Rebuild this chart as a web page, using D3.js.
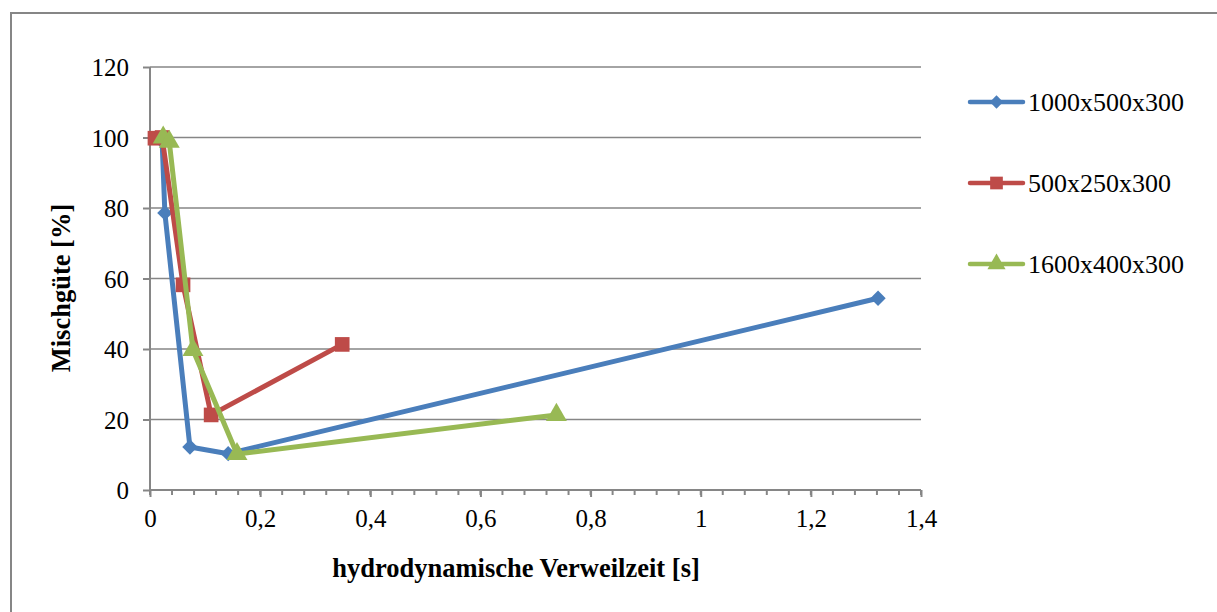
<!DOCTYPE html>
<html>
<head>
<meta charset="utf-8">
<script src="https://cdn.jsdelivr.net/npm/d3@7"></script>
<style>
  body { margin: 0; background: #fff; }
</style>
</head>
<body>
<div class="canvas"></div>
<script>
// Data

const seriesNames = ["1000x500x300", "500x250x300", "1600x400x300"];

const blueX = [0.022, 0.027, 0.0725, 0.142, 1.322];
const blueY = [99, 78.6, 12.2, 10.3, 54.4];

const redX = [0.009, 0.022, 0.06, 0.111, 0.349];
const redY = [99.8, 100, 58.2, 21.3, 41.3];

const greenX = [0.024, 0.035, 0.078, 0.158, 0.738];
const greenY = [100, 98.8, 39.7, 10.2, 21.3];

const xTicks = [0, 0.2, 0.4, 0.6, 0.8, 1, 1.2, 1.4];
const yTicks = [0, 20, 40, 60, 80, 100, 120];

const colors = ["#4A7EBB", "#BE4B48", "#98B954"];
const symbols = [d3.symbolDiamond2, d3.symbolSquare, d3.symbolTriangle];

const serif = "'Liberation Serif', 'Times New Roman', 'DejaVu Serif', serif";

// Set dimensions & margins

const W = 1217, H = 612;
const margin = { top: 67, left: 150, right: W - 921, bottom: H - 490 };
const width = W - margin.left - margin.right;
const height = H - margin.top - margin.bottom;

const x = d3.scaleLinear().domain([0, 1.4]).range([0, width]);
const y = d3.scaleLinear().domain([0, 120]).range([height, 0]);

const svg = d3.select(".canvas")
  .append("svg")
    .attr("width", W)
    .attr("height", H);

// outer chart border (cut at right and bottom)
svg.append("path")
  .attr("d", `M11,${H + 5} V13 H${W + 5}`)
  .attr("fill", "none")
  .attr("stroke", "#868686")
  .attr("stroke-width", 2);

const g = svg.append("g")
  .attr("transform", `translate(${margin.left}, ${margin.top})`);

// horizontal gridlines
g.selectAll(".yGrid")
  .data(yTicks.slice(1))
  .join("line")
  .attr("x1", 0)
  .attr("x2", width)
  .attr("y1", d => y(d))
  .attr("y2", d => y(d))
  .attr("stroke", "#868686")
  .attr("stroke-width", 1.5);

// y-axis
g.append("g")
  .call(d3.axisLeft(y)
    .tickValues(yTicks)
    .tickSize(7)
    .tickPadding(14)
    .tickFormat(d => d))
  .call(a => a.select(".domain").attr("stroke", "#868686").attr("stroke-width", 2).attr("d", `M0,${height}V0`))
  .call(a => a.selectAll(".tick line").attr("stroke", "#868686").attr("stroke-width", 2))
  .selectAll(".tick text")
  .style("font-family", serif)
  .style("font-size", "25px")
  .attr("fill", "#000")
  .attr("dy", "0.35em");

// x-axis minor ticks
const minor = d3.range(0, 1.4001, 0.04);
g.selectAll(".xMinor")
  .data(minor)
  .join("line")
  .attr("x1", d => x(d))
  .attr("x2", d => x(d))
  .attr("y1", height)
  .attr("y2", height + 5)
  .attr("stroke", "#868686")
  .attr("stroke-width", 2);

// x-axis
g.append("g")
  .attr("transform", `translate(0, ${height})`)
  .call(d3.axisBottom(x)
    .tickValues(xTicks)
    .tickSize(7)
    .tickPadding(12)
    .tickFormat(d => String(d).replace(".", ",")))
  .call(a => a.select(".domain").attr("stroke", "#868686").attr("stroke-width", 2).attr("d", `M0,0H${width}`))
  .call(a => a.selectAll(".tick line").attr("stroke", "#868686").attr("stroke-width", 2))
  .selectAll(".tick text")
  .style("font-family", serif)
  .style("font-size", "25px")
  .attr("fill", "#000")
  .attr("dy", "0.71em");

// series lines and markers
const series = [
  { name: seriesNames[0], xs: blueX, ys: blueY },
  { name: seriesNames[1], xs: redX, ys: redY },
  { name: seriesNames[2], xs: greenX, ys: greenY }
];
const markerSize = [150, 215, 190];

const line = d3.line()
  .x(d => x(d[0]))
  .y(d => y(d[1]));

series.forEach((s, i) => {
  const pts = s.xs.map((v, j) => [v, s.ys[j]]);
  g.append("path")
    .datum(pts)
    .attr("fill", "none")
    .attr("stroke", colors[i])
    .attr("stroke-width", 5)
    .attr("stroke-linejoin", "round")
    .attr("d", line);
  g.selectAll(null)
    .data(pts)
    .join("path")
    .attr("transform", d => `translate(${x(d[0])}, ${y(d[1])})`)
    .attr("d", d3.symbol(symbols[i], markerSize[i]))
    .attr("fill", colors[i]);
});

// legend
const legend = svg.append("g")
  .attr("transform", "translate(970, 102)");

series.forEach((s, i) => {
  const row = legend.append("g").attr("transform", `translate(0, ${i * 81})`);
  row.append("line")
    .attr("x1", 0).attr("x2", 53)
    .attr("stroke", colors[i])
    .attr("stroke-width", 4.5)
    .attr("stroke-linecap", "round");
  row.append("path")
    .attr("transform", "translate(26.5, 0)")
    .attr("d", d3.symbol(symbols[i], markerSize[i] * 0.75))
    .attr("fill", colors[i]);
  row.append("text")
    .attr("x", 58)
    .attr("dy", "0.35em")
    .style("font-family", serif)
    .style("font-size", "26px")
    .text(s.name);
});

// axis titles
svg.append("text")
  .attr("transform", "rotate(-90)")
  .attr("x", -288)
  .attr("y", 70)
  .style("text-anchor", "middle")
  .style("font-family", serif)
  .style("font-size", "26.5px")
  .style("font-weight", "bold")
  .text("Mischgüte [%]");

svg.append("text")
  .attr("x", 516)
  .attr("y", 577)
  .style("text-anchor", "middle")
  .style("font-family", serif)
  .style("font-size", "26.5px")
  .style("font-weight", "bold")
  .text("hydrodynamische Verweilzeit [s]");
</script>
</body>
</html>
